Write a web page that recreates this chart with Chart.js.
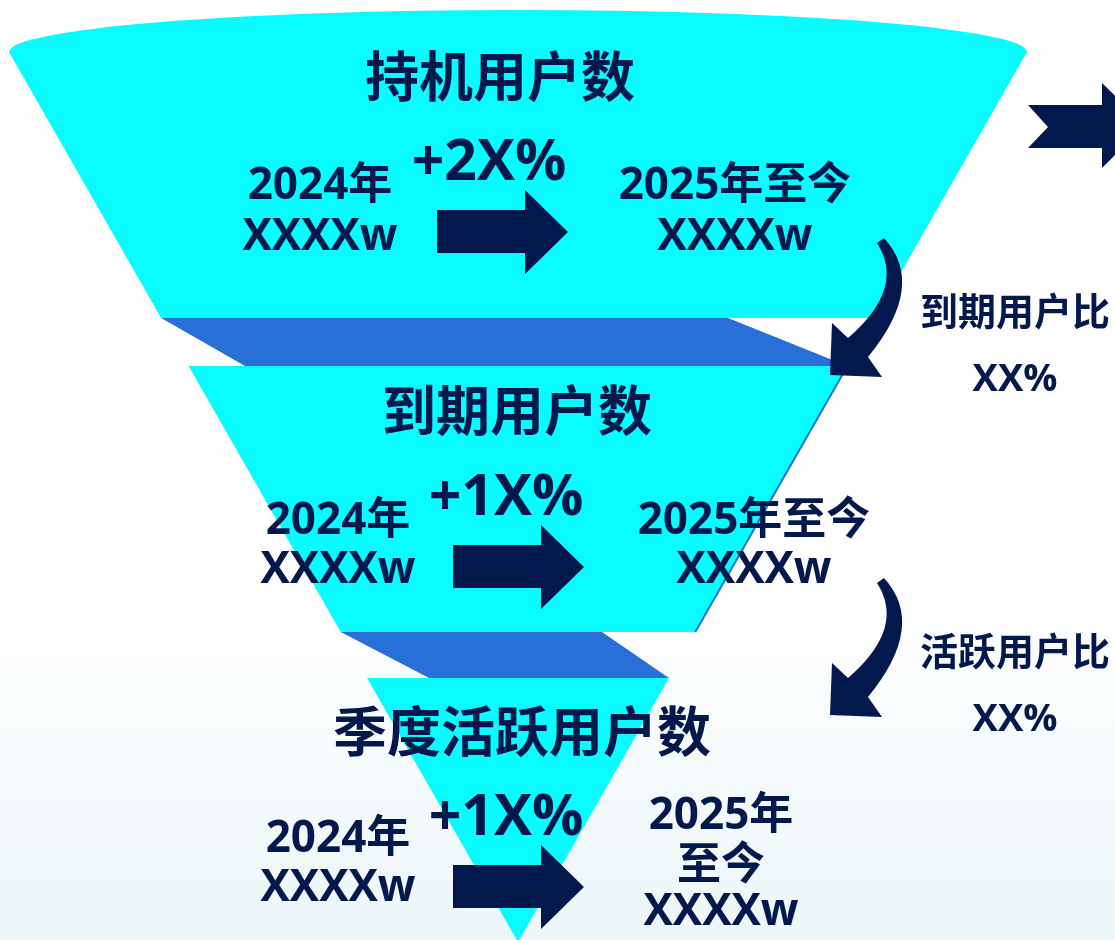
<!DOCTYPE html>
<html><head><meta charset="utf-8">
<script src="https://cdn.jsdelivr.net/npm/chart.js@4.4.1/dist/chart.umd.min.js"></script>
<style>
html,body{margin:0;padding:0;}
body{width:1115px;height:940px;overflow:hidden;background:linear-gradient(to bottom,#ffffff 0%,#ffffff 60%,#edf6f9 100%);}
#wrap{position:relative;width:1115px;height:940px;}
</style></head><body><div id="wrap"><canvas id="c" width="1115" height="940"></canvas></div>
<script>
// ---- content ----
const stageNames = ['持机用户数', '到期用户数', '季度活跃用户数'];
const growthLabels = ['+2X%', '+1X%', '+1X%'];
const prevYearLabels = ['2024年', '2024年', '2024年'];
const prevValues = ['XXXXw', 'XXXXw', 'XXXXw'];
const currYearLabels = [['2025年至今'], ['2025年至今'], ['2025年', '至今']];
const currValues = ['XXXXw', 'XXXXw', 'XXXXw'];
const ratioNames = ['到期用户比', '活跃用户比'];
const ratioValues = ['XX%', 'XX%'];

// ---- layout (chart units) ----
const G = {
  cx: 518, topY: 52, halfTop: 509, apexY: 942, capRy: 42,
  sections: [[52, 318], [366, 632], [678, 942]],
  bands: [{top: 318, bottom: 366, topRight: 728, bottomLeft: 245},
          {top: 632, bottom: 678, topRight: 602, bottomLeft: 429}],
  titleY: [76, 410, 731], titleX: [500, 517, 522],
  prevX: [320, 338, 338], prevY: [186, 521, 839], prevValY: [237, 570, 888],
  growX: [489, 506, 506], growY: [164, 499, 819],
  currX: [735, 754, 721], currY: [[186], [521], [816, 866]], currValY: [237, 570, 912],
  arrowX: [437, 453, 453], arrowY: [232, 567, 887],
  ratioX: 1015, ratioNameY: [311, 651], ratioValY: [380, 720],
  curveDY: [0, 340]
};
const COLORS = {cyan: '#08fbff', band: '#2870d8', navy: '#03184d'};
const LATIN = '"Open Sans", "Noto Sans CJK SC", sans-serif';
const CJK = '"Noto Sans CJK SC", sans-serif';

const funnelPlugin = {
  id: 'funnel',
  beforeDatasetsDraw(chart) {
    const ctx = chart.ctx, xs = chart.scales.x, ys = chart.scales.y;
    const X = v => xs.getPixelForValue(v), Y = v => ys.getPixelForValue(v);
    const half = y => G.halfTop * (G.apexY - y) / (G.apexY - G.topY);
    const L = y => G.cx - half(y), R = y => G.cx + half(y);
    ctx.save();
    G.bands.forEach(b => {
      ctx.beginPath();
      ctx.moveTo(X(L(b.top)), Y(b.top));
      ctx.lineTo(X(b.topRight), Y(b.top));
      ctx.lineTo(X(R(b.bottom)), Y(b.bottom));
      ctx.lineTo(X(b.bottomLeft), Y(b.bottom));
      ctx.closePath();
      ctx.fillStyle = COLORS.band; ctx.fill();
    });
    G.sections.forEach((s, i) => {
      ctx.beginPath();
      ctx.moveTo(X(L(s[0])), Y(s[0]));
      if (i === 0) {
        ctx.ellipse(X(G.cx), Y(s[0]), X(G.cx + half(s[0])) - X(G.cx), Y(s[0]) - Y(s[0] - G.capRy), 0, Math.PI, 2 * Math.PI);
      } else {
        ctx.lineTo(X(R(s[0])), Y(s[0]));
      }
      ctx.lineTo(X(R(s[1])), Y(s[1]));
      ctx.lineTo(X(L(s[1])), Y(s[1]));
      ctx.closePath();
      ctx.fillStyle = COLORS.cyan; ctx.fill();
    });
    ctx.beginPath();
    ctx.moveTo(X(R(G.sections[1][0])), Y(G.sections[1][0]));
    ctx.lineTo(X(R(G.sections[1][1])), Y(G.sections[1][1]));
    ctx.strokeStyle = COLORS.band; ctx.lineWidth = 2; ctx.stroke();
    ctx.restore();
  },
  afterDatasetsDraw(chart) {
    const ctx = chart.ctx, xs = chart.scales.x, ys = chart.scales.y;
    const X = v => xs.getPixelForValue(v), Y = v => ys.getPixelForValue(v);
    ctx.save();
    ctx.fillStyle = COLORS.navy;
    G.arrowX.forEach((ax, i) => {
      const ay = G.arrowY[i];
      ctx.beginPath();
      ctx.moveTo(X(ax), Y(ay - 22));
      ctx.lineTo(X(ax + 88), Y(ay - 22));
      ctx.lineTo(X(ax + 88), Y(ay - 42));
      ctx.lineTo(X(ax + 131), Y(ay));
      ctx.lineTo(X(ax + 88), Y(ay + 42));
      ctx.lineTo(X(ax + 88), Y(ay + 21));
      ctx.lineTo(X(ax), Y(ay + 21));
      ctx.closePath(); ctx.fill();
    });
    ctx.beginPath();
    [[1028,105],[1102,105],[1102,83],[1145,125],[1102,168],[1102,148],[1028,148],[1048,127]].forEach((p, k) => {
      k ? ctx.lineTo(X(p[0]), Y(p[1])) : ctx.moveTo(X(p[0]), Y(p[1]));
    });
    ctx.closePath(); ctx.fill();
    G.curveDY.forEach(dy => {
      ctx.beginPath();
      ctx.moveTo(X(884), Y(238 + dy));
      ctx.quadraticCurveTo(X(927), Y(285 + dy), X(868), Y(357 + dy));
      ctx.lineTo(X(882), Y(377 + dy));
      ctx.lineTo(X(830), Y(375 + dy));
      ctx.lineTo(X(832), Y(323 + dy));
      ctx.lineTo(X(848), Y(338 + dy));
      ctx.quadraticCurveTo(X(906), Y(288 + dy), X(877), Y(243 + dy));
      ctx.closePath(); ctx.fill();
    });
    ctx.textAlign = 'center'; ctx.textBaseline = 'middle';
    const T = (s, x, y, size, fam) => { ctx.font = 'bold ' + size + 'px ' + fam; ctx.fillText(s, X(x), Y(y)); };
    stageNames.forEach((s, i) => {
      T(s, G.titleX[i], G.titleY[i], 54, CJK);
      T(prevYearLabels[i], G.prevX[i], G.prevY[i], 44, LATIN);
      T(prevValues[i], G.prevX[i], G.prevValY[i], 44, LATIN);
      T(growthLabels[i], G.growX[i], G.growY[i], 57, LATIN);
      currYearLabels[i].forEach((l, k) => T(l, G.currX[i], G.currY[i][k], 44, LATIN));
      T(currValues[i], G.currX[i], G.currValY[i], 44, LATIN);
    });
    ratioNames.forEach((s, i) => {
      T(s, G.ratioX, G.ratioNameY[i], 38, CJK);
      T(ratioValues[i], G.ratioX, G.ratioValY[i], 38, LATIN);
    });
    ctx.restore();
  }
};

new Chart(document.getElementById('c'), {
  type: 'scatter',
  data: {datasets: [{label: 'funnel', data: [], pointRadius: 0}]},
  options: {
    responsive: false, animation: false, devicePixelRatio: 1,
    layout: {padding: 0},
    plugins: {legend: {display: false}, tooltip: {enabled: false}},
    scales: {
      x: {type: 'linear', min: 0, max: 1115, display: false},
      y: {type: 'linear', min: 0, max: 940, reverse: true, display: false}
    }
  },
  plugins: [funnelPlugin]
});
</script></body></html>
